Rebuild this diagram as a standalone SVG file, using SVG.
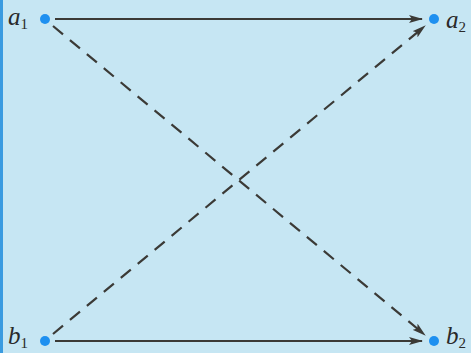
<svg xmlns="http://www.w3.org/2000/svg" width="471" height="353" viewBox="0 0 471 353">
<style>
.ln{stroke:#3b3a36;stroke-width:2.2;fill:none}
.ds{stroke-dasharray:13 9}
.dot{fill:#1e90f0}
.lb{font-family:"Liberation Serif",serif;font-style:italic;font-size:25px;fill:#2a2a2a}
.sub{font-family:"Liberation Serif",serif;font-size:15px;font-style:normal}
</style>
<defs>
<marker id="ah" viewBox="0 0 14 8" refX="13" refY="4" markerWidth="14" markerHeight="8" markerUnits="userSpaceOnUse" orient="auto">
<path d="M0,0 L14,4 L0,8 L3,4 Z" fill="#3b3a36"/>
</marker>
</defs>
<rect width="471" height="353" fill="#c6e6f3"/>
<rect width="3" height="353" fill="#3a9be0"/>
<g id="connectors">
<line class="ln" x1="55" y1="19" x2="422" y2="19" marker-end="url(#ah)"/>
<line class="ln" x1="55" y1="341" x2="422" y2="341" marker-end="url(#ah)"/>
<line class="ln ds" x1="53" y1="26" x2="425" y2="335" marker-end="url(#ah)"/>
<line class="ln ds" x1="53" y1="334" x2="425" y2="26" marker-end="url(#ah)"/>
</g>
<g id="a1"><circle class="dot" cx="45" cy="19" r="5"/><text class="lb" x="8" y="25">a<tspan class="sub" dy="4">1</tspan></text></g>
<g id="a2"><circle class="dot" cx="434" cy="19" r="5"/><text class="lb" x="446" y="28">a<tspan class="sub" dy="4">2</tspan></text></g>
<g id="b1"><circle class="dot" cx="45" cy="341" r="5"/><text class="lb" x="8" y="344">b<tspan class="sub" dy="4">1</tspan></text></g>
<g id="b2"><circle class="dot" cx="434" cy="341" r="5"/><text class="lb" x="446" y="344">b<tspan class="sub" dy="4">2</tspan></text></g>
</svg>
